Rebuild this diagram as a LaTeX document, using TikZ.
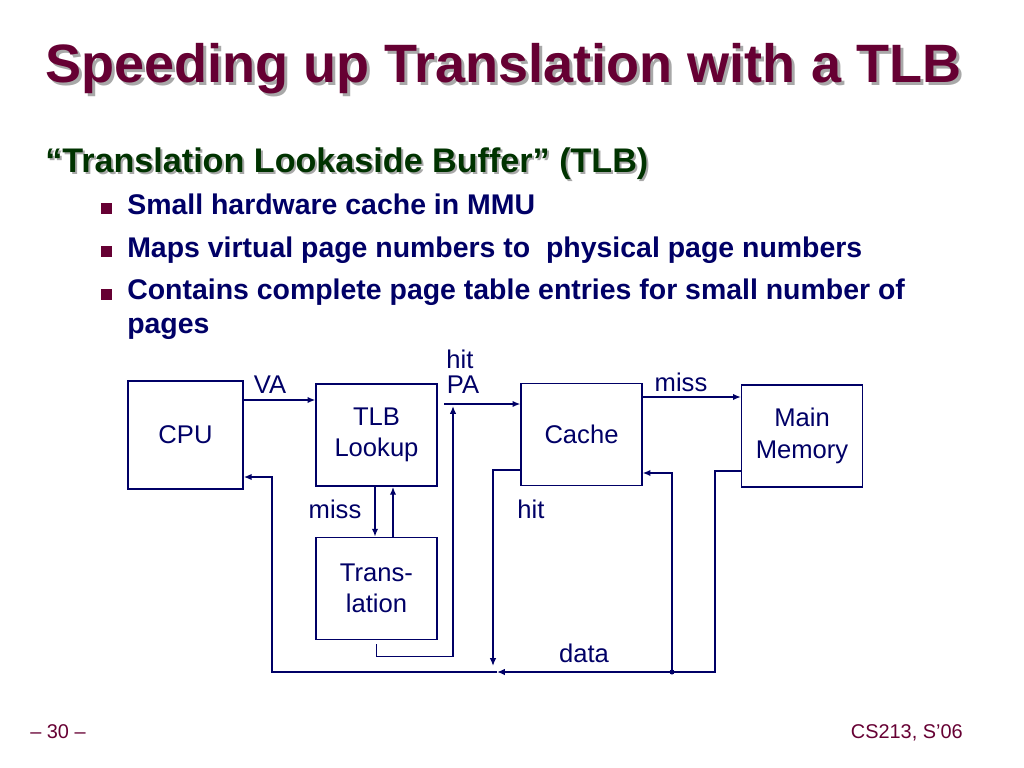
\documentclass[tikz,border=0pt]{standalone}
\usepackage{fontspec}
\setmainfont{Liberation Sans}
\usepackage{tikz}
\usetikzlibrary{calc,arrows.meta}
\definecolor{maroon}{HTML}{660033}
\definecolor{navy}{HTML}{000066}
\definecolor{dgreen}{HTML}{003300}
\definecolor{shade}{HTML}{A8A8A8}
\def\blockbox{\node[draw=navy,line width=1pt,text=navy,align=center,minimum width=85pt,minimum height=72pt,font=\fontsize{18}{22}\selectfont]}
\def\wirelabel{\node[text=navy,font=\fontsize{18}{22}\selectfont]}
\def\bullettext{\node[anchor=base west,inner sep=0pt,text=navy,font=\bfseries\fontsize{20}{24}\selectfont]}
\def\bulletsq{\fill[maroon]}

\begin{document}
\begin{tikzpicture}[x=0.703125pt,y=-0.703125pt,>={Latex[length=5.5pt,width=4.5pt]}]
\useasboundingbox (0,0) rectangle (1024,768);
% title and list
\node[anchor=base west,inner sep=0pt,text=shade,font=\bfseries\fontsize{38}{44}\selectfont] (titleshadow) at (48,86) {Speeding up Translation with a TLB};
\node[anchor=base west,inner sep=0pt,text=maroon,font=\bfseries\fontsize{38}{44}\selectfont] (title) at (45,83) {Speeding up Translation with a TLB};
\node[anchor=base west,inner sep=0pt,text=shade,font=\bfseries\fontsize{24}{28}\selectfont] (subshadow) at (47,175) {“Translation Lookaside Buffer” (TLB)};
\node[anchor=base west,inner sep=0pt,text=dgreen,font=\bfseries\fontsize{24}{28}\selectfont] (sub) at (45,173) {“Translation Lookaside Buffer” (TLB)};
\bulletsq (101,203) rectangle (112,214);
\bullettext (b1) at (127,215) {Small hardware cache in MMU};
\bulletsq (101,246) rectangle (112,257);
\bullettext (b2) at (127,258) {Maps virtual page numbers to\ \ physical page numbers};
\bulletsq (101,289) rectangle (112,300);
\bullettext (b3) at (127,300) {Contains complete page table entries for small number of};
\bullettext (b4) at (127,333) {pages};

% boxes
\blockbox[minimum width=81pt,minimum height=76pt] (CPU) at (185.5,435) {CPU};
\blockbox (TLB) at (376.5,435) {TLB\\Lookup};
\blockbox (Trans) at (376.5,588.5) {Trans-\\lation};
\blockbox (Cache) at (581.5,434.5) {Cache};
\blockbox (MM) at (802,436) {Main\\Memory};

% wiring
\coordinate (va) at (243,400);
\coordinate (pa) at (444,404);
\coordinate (pahit) at (453,406);
\coordinate (miss) at (642,397);
\coordinate (cornerMM) at (715,672);
\coordinate (busarr) at (497,672);
\coordinate (cornerCPU) at (272,672);
\coordinate (tap) at (672,672);
\coordinate (hitend) at (493,666);
\begin{scope}[navy,line width=1pt]
\draw[->] (va) -- (va -| TLB.west);
\draw[->] (pa) -- (pa -| Cache.west);
\draw[->] ($(TLB.south)+(-1.5,0)$) -- ($(Trans.north)+(-1.5,0)$);
\draw[->] ($(Trans.north)+(16.5,0)$) -- ($(TLB.south)+(16.5,0)$);
\draw[->] ($(Trans.south)+(0,4)$) -- ++(0,12) -| (pahit);
\draw[->] (miss) -- (miss -| MM.west);
\draw[->] ($(MM.west)+(0,35)$) -| (cornerMM) -- (busarr);
\draw[->] (busarr) -- (cornerCPU) |- ($(CPU.east)+(0,42)$);
\draw[->] ($(Cache.west)+(0,35.5)$) -| (hitend);
\draw[->] (tap) |- ($(Cache.east)+(0,38.5)$);
\fill (tap) circle (2.5);
\end{scope}

% labels
\wirelabel (lva) at (270,385) {VA};
\wirelabel (lhit) at (460,359) {hit};
\wirelabel (lpa) at (463,385) {PA};
\wirelabel (lmiss) at (681,382) {miss};
\wirelabel (lmiss2) at (335,509) {miss};
\wirelabel (lhit2) at (531,509) {hit};
\wirelabel (ldata) at (584,653) {data};

% footer
\node[anchor=base west,inner sep=0pt,text=maroon,font=\fontsize{14}{17}\selectfont] (page) at (30,738) {– 30 –};
\node[anchor=base east,inner sep=0pt,text=maroon,font=\fontsize{14}{17}\selectfont] (course) at (963,738) {CS213, S’06};
\end{tikzpicture}
\end{document}
